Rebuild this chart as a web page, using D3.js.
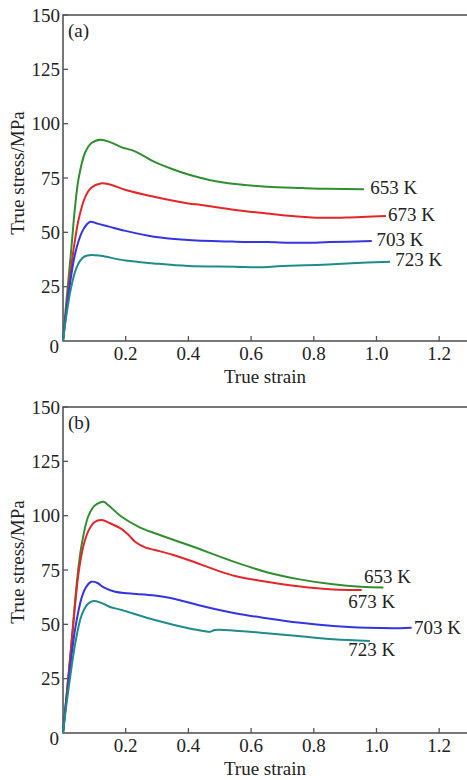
<!DOCTYPE html>
<html>
<head>
<meta charset="utf-8">
<script src="https://cdn.jsdelivr.net/npm/d3@7"></script>
<style>
  body { margin: 0; background: #fff; }
  svg { display: block; }
  text { font-family: "Liberation Serif", "DejaVu Serif", serif; fill: #222; }
</style>
</head>
<body>
<div id="chart"></div>
<script>
const width = 467;
const height = 780;

// tick values
const strainTicks = [0.2, 0.4, 0.6, 0.8, 1.0, 1.2];
const stressTicks = [25, 50, 75, 100, 125, 150];
const temps = ["653 K", "673 K", "703 K", "723 K"];
const colors = ["#2f8f2f", "#e3262a", "#3535e0", "#1f8c8c"];

// panel (a) curves: [true strain, true stress MPa]
const a653 = [[0,0],[0.01,17],[0.025,40],[0.038,61],[0.05,75],[0.07,86.5],[0.09,91],[0.12,92.6],[0.15,91.5],[0.19,89],[0.22,87.8],[0.25,85.8],[0.29,82.5],[0.35,79],[0.40,76.6],[0.47,74],[0.55,72.2],[0.65,71],[0.76,70.4],[0.85,70],[0.96,69.8]];
const a673 = [[0,0],[0.01,14],[0.025,33],[0.04,48],[0.05,56],[0.07,66],[0.09,70.5],[0.12,72.5],[0.15,72],[0.2,69.5],[0.29,66.4],[0.4,63.3],[0.44,62.6],[0.55,60.3],[0.65,58.7],[0.72,57.6],[0.81,56.7],[0.9,56.8],[1.03,57.5]];
const a703 = [[0,0],[0.01,13],[0.025,29],[0.04,41],[0.06,50],[0.075,53.5],[0.087,54.9],[0.11,54],[0.15,52.5],[0.19,51],[0.29,48],[0.4,46.5],[0.55,45.7],[0.65,45.5],[0.76,45.2],[0.85,45.5],[0.985,46]];
const a723 = [[0,0],[0.01,11],[0.025,24],[0.04,32.5],[0.055,37],[0.07,39],[0.09,39.6],[0.12,39.2],[0.2,37],[0.29,35.7],[0.4,34.5],[0.55,34.2],[0.62,33.9],[0.7,34.5],[0.81,35],[0.92,35.8],[1.043,36.5]];

// panel (b) curves
const b653 = [[0,0],[0.01,15],[0.025,38],[0.038,60],[0.05,77],[0.06,87],[0.08,99.5],[0.1,104.5],[0.12,106.2],[0.13,106.4],[0.145,104.8],[0.187,99.5],[0.24,95],[0.293,91.9],[0.4,86.5],[0.549,78.6],[0.65,74],[0.75,70.8],[0.862,68.4],[0.95,67.3],[1.022,67]];
const b673 = [[0,0],[0.01,15],[0.025,38],[0.038,58],[0.05,74],[0.065,86],[0.081,93],[0.1,97],[0.123,98],[0.15,96.5],[0.187,93.8],[0.21,91],[0.23,88],[0.262,85.4],[0.293,84.2],[0.35,82],[0.40,79.6],[0.549,72.2],[0.65,69.6],[0.75,67.5],[0.862,66],[0.953,65.8]];
const b703 = [[0,0],[0.01,14],[0.025,33],[0.04,49],[0.06,62.5],[0.075,67.5],[0.091,69.6],[0.11,69],[0.13,67],[0.166,65],[0.293,63.3],[0.347,62],[0.453,58.1],[0.549,55.1],[0.65,52.8],[0.75,50.8],[0.862,49.2],[0.97,48.4],[1.075,48.2],[1.112,48.4]];
const b723 = [[0,0],[0.01,12],[0.025,28],[0.04,42],[0.06,54.5],[0.08,59.5],[0.097,60.7],[0.12,60],[0.15,58],[0.187,56.6],[0.293,52],[0.4,48.2],[0.453,46.8],[0.47,46.6],[0.485,47.4],[0.549,47.1],[0.65,45.9],[0.75,44.6],[0.862,43.1],[0.979,42.3]];

// label anchor positions (strain, stress) for each temperature
const aLabelPos = [[0.98, 67.5], [1.037, 55], [1.0, 43.5], [1.06, 34.5]];
const bLabelPos = [[0.96, 69], [0.91, 57.5], [1.12, 45.5], [0.91, 35.5]];

const svg = d3.select("#chart").append("svg")
  .attr("width", width)
  .attr("height", height);

const x = d3.scaleLinear().domain([0, 1.3]).range([63, 63 + 1.3 * 313.5]);

drawPanel(15, "(a)", [a653, a673, a703, a723], aLabelPos, 173);
drawPanel(407, "(b)", [b653, b673, b703, b723], bLabelPos, 562);

function drawPanel(top, tag, curves, labelPos, titleY) {
  const bottom = top + 326;
  const y = d3.scaleLinear().domain([0, 150]).range([bottom, top]);
  const g = svg.append("g");

  // frame
  g.append("rect")
    .attr("x", x(0)).attr("y", top)
    .attr("width", x(1.3) - x(0)).attr("height", bottom - top)
    .attr("fill", "none")
    .attr("stroke", "#555")
    .attr("stroke-width", 1.6);

  // x ticks (inward)
  g.selectAll("line.xt").data(strainTicks).join("line")
    .attr("class", "xt")
    .attr("x1", d => x(d)).attr("x2", d => x(d))
    .attr("y1", bottom).attr("y2", bottom - 5)
    .attr("stroke", "#555").attr("stroke-width", 1.3);

  g.selectAll("text.xl").data(strainTicks).join("text")
    .attr("class", "xl")
    .attr("x", d => x(d))
    .attr("y", bottom + 19)
    .attr("text-anchor", "middle")
    .attr("font-size", "19px")
    .text(d => d.toFixed(1));

  // y ticks
  g.selectAll("line.yt").data(stressTicks).join("line")
    .attr("class", "yt")
    .attr("x1", x(0)).attr("x2", x(0) + 5)
    .attr("y1", d => y(d)).attr("y2", d => y(d))
    .attr("stroke", "#555").attr("stroke-width", 1.3);

  g.selectAll("text.yl").data(stressTicks).join("text")
    .attr("class", "yl")
    .attr("x", x(0) - 3)
    .attr("y", d => y(d))
    .attr("dy", "0.35em")
    .attr("text-anchor", "end")
    .attr("font-size", "19px")
    .text(d => d);

  g.append("text")
    .attr("x", x(0) - 4)
    .attr("y", bottom + 12)
    .attr("text-anchor", "end")
    .attr("font-size", "19px")
    .text("0");

  // axis titles
  g.append("text")
    .attr("x", 265)
    .attr("y", bottom + 42)
    .attr("text-anchor", "middle")
    .attr("font-size", "19px")
    .text("True strain");

  g.append("text")
    .attr("transform", `translate(24,${titleY}) rotate(-90)`)
    .attr("text-anchor", "middle")
    .attr("font-size", "19px")
    .text("True stress/MPa");

  g.append("text")
    .attr("x", x(0) + 5)
    .attr("y", top + 22)
    .attr("font-size", "19px")
    .text(tag);

  const line = d3.line()
    .x(d => x(d[0]))
    .y(d => y(d[1]))
    .curve(d3.curveCatmullRom.alpha(0.5));

  g.selectAll("path.curve").data(curves).join("path")
    .attr("class", "curve")
    .attr("d", line)
    .attr("fill", "none")
    .attr("stroke", (d, i) => colors[i])
    .attr("stroke-width", 2);

  g.selectAll("text.temp").data(temps).join("text")
    .attr("class", "temp")
    .attr("x", (d, i) => x(labelPos[i][0]))
    .attr("y", (d, i) => y(labelPos[i][1]))
    .attr("font-size", "19px")
    .text(d => d);
}
</script>
</body>
</html>
